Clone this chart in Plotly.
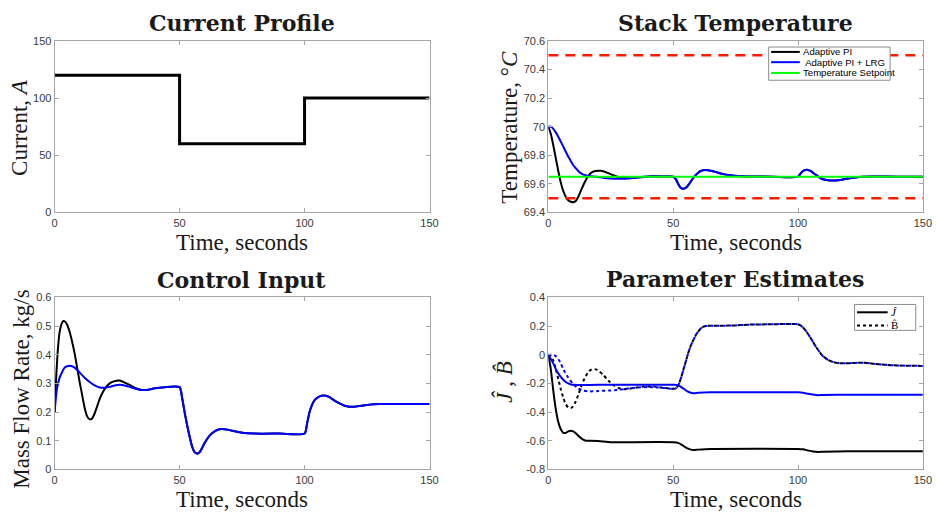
import plotly.graph_objects as go

W, H = 946, 522

# ---------------- data ----------------
cur_t = [0, 50, 50, 100, 100, 150]
cur_a = [120, 120, 60, 60, 100, 100]

temp_t_pi = [0, 1, 2, 3, 4, 5, 6, 7, 8, 9, 10, 11, 12, 13, 14, 15, 16, 17, 18, 19, 20, 21, 22, 24, 26, 28, 30, 33, 36, 40, 45, 50]
temp_pi = [70.0, 69.95, 69.87, 69.78, 69.69, 69.61, 69.55, 69.51, 69.485, 69.475, 69.472, 69.48, 69.51, 69.55, 69.59,
           69.625, 69.655, 69.675, 69.685, 69.69, 69.692, 69.692, 69.688, 69.675, 69.66, 69.648, 69.642, 69.64, 69.645,
           69.65, 69.652, 69.65]

temp_t_lrg = [0, 1, 2, 3, 4, 5, 6, 7, 8, 9, 10, 11, 12, 13, 14, 15, 16, 18, 20, 22, 25, 28, 31, 34, 38, 42, 46, 50,
              51, 52, 53, 54, 55, 56, 57, 58, 59, 60, 61, 62, 63, 64, 66, 68, 70, 73, 76, 80, 90, 100,
              101, 102, 103, 104, 105, 106, 107, 108, 109, 110, 112, 114, 116, 118, 120, 123, 126, 130, 140, 150]
temp_lrg = [70.0, 70.0, 69.985, 69.96, 69.93, 69.895, 69.86, 69.825, 69.79, 69.76, 69.73, 69.71, 69.69, 69.675, 69.665,
            69.66, 69.655, 69.652, 69.648, 69.642, 69.637, 69.635, 69.636, 69.642, 69.65, 69.655, 69.652, 69.65,
            69.635, 69.6, 69.572, 69.565, 69.572, 69.59, 69.615, 69.64, 69.66, 69.678, 69.69, 69.695, 69.697, 69.695,
            69.688, 69.678, 69.668, 69.66, 69.655, 69.652, 69.65, 69.65,
            69.672, 69.69, 69.697, 69.697, 69.69, 69.678, 69.665, 69.652, 69.64, 69.632, 69.625, 69.623, 69.625,
            69.63, 69.637, 69.645, 69.65, 69.652, 69.65, 69.65]

setpoint_t = [0, 150]
setpoint = [69.65, 69.65]
temp_upper = [70.5, 70.5]
temp_lower = [69.5, 69.5]

ctl_t_pi = [0, 0.5, 1, 1.5, 2, 3, 3.5, 4, 5, 6, 7, 8, 9, 10, 11, 12, 13, 14, 15, 16, 17, 18, 19, 20, 22, 24, 26, 28,
            30, 32, 34, 36, 38, 40, 44, 50]
ctl_pi = [0.2, 0.3, 0.38, 0.44, 0.48, 0.512, 0.518, 0.517, 0.505, 0.48, 0.445, 0.405, 0.355, 0.305, 0.26, 0.215,
          0.185, 0.175, 0.178, 0.195, 0.22, 0.245, 0.265, 0.28, 0.3, 0.308, 0.31, 0.303, 0.295, 0.285, 0.279, 0.277,
          0.279, 0.283, 0.287, 0.287]

ctl_t_lrg = [0, 0.5, 1, 2, 3, 4, 5, 6, 7, 8, 9, 10, 12, 14, 16, 18, 20, 22, 24, 26, 28, 30, 32, 34, 36, 38, 40, 44, 50,
             51, 52, 53, 54, 55, 56, 57, 58, 59, 60, 62, 64, 66, 68, 70, 72, 75, 80, 90, 100,
             101, 102, 103, 104, 106, 108, 110, 112, 114, 116, 118, 120, 123, 126, 130, 140, 150]
ctl_lrg = [0.2, 0.25, 0.285, 0.32, 0.34, 0.355, 0.36, 0.362, 0.36, 0.355, 0.347, 0.338, 0.32, 0.305, 0.293, 0.286,
           0.285, 0.288, 0.293, 0.295, 0.293, 0.288, 0.282, 0.278, 0.277, 0.279, 0.283, 0.287, 0.287,
           0.25, 0.2, 0.155, 0.115, 0.08, 0.06, 0.055, 0.06, 0.075, 0.092, 0.118, 0.133, 0.14, 0.14, 0.137, 0.133,
           0.128, 0.125, 0.125, 0.125,
           0.16, 0.2, 0.225, 0.242, 0.255, 0.258, 0.252, 0.24, 0.23, 0.222, 0.219, 0.219, 0.222, 0.226, 0.228,
           0.228, 0.228]

par_t_j_pi = [0, 1, 2, 3, 4, 5, 6, 7, 8, 9, 10, 11, 12, 13, 14, 15, 17, 20, 25, 30, 50, 52, 54, 56, 58, 60, 65, 100,
              102, 104, 106, 108, 110, 120, 150]
par_j_pi = [0, -0.1, -0.25, -0.38, -0.47, -0.52, -0.545, -0.545, -0.535, -0.53, -0.535, -0.548, -0.565, -0.58,
            -0.593, -0.6, -0.6, -0.602, -0.61, -0.61, -0.61, -0.615, -0.635, -0.655, -0.665, -0.662, -0.657, -0.657,
            -0.66, -0.668, -0.675, -0.678, -0.677, -0.673, -0.673]

par_t_b_pi = [0, 1, 2, 3, 4, 5, 6, 7, 8, 9, 10, 11, 12, 13, 14, 15, 16, 17, 18, 19, 20, 22, 24, 26, 28, 30, 32, 35,
              38, 42, 46, 50, 51]
par_b_pi = [0, -0.01, -0.04, -0.1, -0.17, -0.24, -0.3, -0.345, -0.368, -0.372, -0.36, -0.325, -0.28, -0.23, -0.185,
            -0.15, -0.12, -0.105, -0.1, -0.102, -0.11, -0.14, -0.18, -0.21, -0.232, -0.24, -0.238, -0.23, -0.222,
            -0.222, -0.23, -0.238, -0.235]

par_t_j_lrg = [0, 1, 2, 3, 4, 5, 6, 7, 8, 9, 10, 12, 20, 50, 52, 54, 56, 58, 60, 65, 100, 102, 104, 106, 108, 110,
               120, 150]
par_j_lrg = [0, -0.03, -0.06, -0.1, -0.13, -0.155, -0.175, -0.19, -0.2, -0.207, -0.21, -0.211, -0.21, -0.21, -0.212,
             -0.235, -0.258, -0.268, -0.265, -0.262, -0.262, -0.265, -0.272, -0.278, -0.282, -0.281, -0.279, -0.279]

par_t_b_lrg = [0, 2, 3, 4, 5, 6, 8, 10, 12, 14, 16, 18, 20, 24, 28, 32, 36, 40, 44, 48, 50,
               51, 52, 53, 54, 55, 56, 57, 58, 59, 60, 61, 62, 63, 65, 70, 75, 80, 90, 97, 100,
               101, 102, 103, 104, 105, 106, 107, 108, 109, 110, 112, 114, 116, 118, 122, 126, 130, 135, 140, 150]
par_b_lrg = [0, 0, -0.01, -0.03, -0.06, -0.1, -0.16, -0.205, -0.235, -0.25, -0.256, -0.255, -0.253, -0.25, -0.245,
             -0.235, -0.228, -0.225, -0.228, -0.235, -0.238,
             -0.235, -0.215, -0.17, -0.11, -0.05, 0.01, 0.06, 0.1, 0.135, 0.162, 0.182, 0.195, 0.2, 0.203, 0.203,
             0.205, 0.21, 0.213, 0.215, 0.213,
             0.205, 0.19, 0.17, 0.145, 0.118, 0.09, 0.06, 0.035, 0.01, -0.01, -0.035, -0.05, -0.058, -0.06, -0.058,
             -0.055, -0.062, -0.07, -0.075, -0.078]

x_ticks = [0, 50, 100, 150]
x_ticktext = ["0", "50", "100", "150"]
cur_ticks = [0, 50, 100, 150]
cur_ticktext = ["0", "50", "100", "150"]
temp_ticks = [69.4, 69.6, 69.8, 70.0, 70.2, 70.4, 70.6]
temp_ticktext = ["69.4", "69.6", "69.8", "70", "70.2", "70.4", "70.6"]
ctl_ticks = [0, 0.1, 0.2, 0.3, 0.4, 0.5, 0.6]
ctl_ticktext = ["0", "0.1", "0.2", "0.3", "0.4", "0.5", "0.6"]
par_ticks = [-0.8, -0.6, -0.4, -0.2, 0, 0.2, 0.4]
par_ticktext = ["-0.8", "-0.6", "-0.4", "-0.2", "0", "0.2", "0.4"]

temp_legend_labels = ["Adaptive PI", " Adaptive PI + LRG", "Temperature Setpoint"]
par_legend_labels = ["<i>Ĵ</i>", "B̂"]

# ---------------- figure ----------------
BLACK = "#000000"
BLUE = "#0000ff"
GREEN = "#00ff00"
RED = "#ff1a00"

fig = go.Figure()

def line(x, y, xa, ya, color, width=2, dash="solid", name=None, shape="spline"):
    fig.add_trace(go.Scatter(
        x=x, y=y, xaxis=xa, yaxis=ya, mode="lines",
        line=dict(color=color, width=width, dash=dash, shape=shape, smoothing=0.6 if shape == "spline" else None),
        name=name, showlegend=False, hoverinfo="skip"))

# Current profile
line(cur_t, cur_a, "x", "y", BLACK, width=3, shape="linear")

# Stack temperature
i50 = temp_t_lrg.index(50) + 1
line(temp_t_pi + temp_t_lrg[i50:], temp_pi + temp_lrg[i50:], "x2", "y2", BLACK, name=temp_legend_labels[0])
line(temp_t_lrg, temp_lrg, "x2", "y2", BLUE, name=temp_legend_labels[1])
line(setpoint_t, setpoint, "x2", "y2", GREEN, name=temp_legend_labels[2], shape="linear")
line(setpoint_t, temp_upper, "x2", "y2", RED, width=2.5, dash="10px,7px", shape="linear")
line(setpoint_t, temp_lower, "x2", "y2", RED, width=2.5, dash="10px,7px", shape="linear")

# Control input
c50 = ctl_t_lrg.index(50) + 1
line(ctl_t_pi + ctl_t_lrg[c50:], ctl_pi + ctl_lrg[c50:], "x3", "y3", BLACK)
line(ctl_t_lrg, ctl_lrg, "x3", "y3", BLUE)

# Parameter estimates
b51 = par_t_b_lrg.index(51) + 1
line(par_t_j_pi, par_j_pi, "x4", "y4", BLACK, name=par_legend_labels[0])
line(par_t_b_pi + par_t_b_lrg[b51:], par_b_pi + par_b_lrg[b51:], "x4", "y4", BLACK, dash="dot",
     name=par_legend_labels[1])
line(par_t_j_lrg, par_j_lrg, "x4", "y4", BLUE)
line(par_t_b_lrg, par_b_lrg, "x4", "y4", BLUE, dash="dot")

# ---------------- layout ----------------
def px(x):
    return x / W

def py(y):
    return 1 - y / H

L_DOM = [px(52.3), px(432)]
R_DOM = [px(552.3), px(931.7)]
T_DOM = [py(211.3), py(35.7)]
B_DOM = [py(474.3), py(298.3)]

TICKFONT = dict(family="Liberation Sans, Arial", size=11, color="#3a3a3a")
AXCOL = "#a6a6a6"

def axis(domain, anchor, rng, tv, tt):
    return dict(domain=domain, anchor=anchor, range=rng, tickvals=tv, ticktext=tt,
                showline=True, mirror="ticks", linecolor=AXCOL, linewidth=1,
                ticks="inside", ticklen=4, tickcolor=AXCOL, tickwidth=1,
                showgrid=False, zeroline=False, tickfont=TICKFONT, fixedrange=True)

fig.update_layout(
    width=W, height=H, autosize=False,
    margin=dict(l=0, r=0, t=0, b=0),
    paper_bgcolor="white", plot_bgcolor="white",
    showlegend=False,
    xaxis=axis(L_DOM, "y", [0, 150], x_ticks, x_ticktext),
    yaxis=axis(T_DOM, "x", [0, 150], cur_ticks, cur_ticktext),
    xaxis2=axis(R_DOM, "y2", [0, 150], x_ticks, x_ticktext),
    yaxis2=axis(T_DOM, "x2", [69.4, 70.6], temp_ticks, temp_ticktext),
    xaxis3=axis(L_DOM, "y3", [0, 150], x_ticks, x_ticktext),
    yaxis3=axis(B_DOM, "x3", [0, 0.6], ctl_ticks, ctl_ticktext),
    xaxis4=axis(R_DOM, "y4", [0, 150], x_ticks, x_ticktext),
    yaxis4=axis(B_DOM, "x4", [-0.8, 0.4], par_ticks, par_ticktext),
)

TITLEFONT = dict(family="DejaVu Serif", size=22, color="#1a1a1a")
LABELFONT = dict(family="Liberation Serif, Times New Roman", size=23, color="#1a1a1a")

ann = []
shapes = []
for text, cx, cy in [("<b>Current Profile</b>", 242, 17), ("<b>Stack Temperature</b>", 742, 17),
                     ("<b>Control Input</b>", 242, 280), ("<b>Parameter Estimates</b>", 742, 279)]:
    ann.append(dict(text=text, x=px(cx), y=py(cy), xref="paper", yref="paper", showarrow=False,
                    xanchor="center", yanchor="middle", font=TITLEFONT))
for cx, cy in [(242, 242), (742, 242), (242, 505), (742, 505)]:
    ann.append(dict(text="Time, seconds", x=px(cx), y=py(cy), xref="paper", yref="paper", showarrow=False,
                    xanchor="center", yanchor="middle", font=LABELFONT))
for text, cx, cy in [("Current, <i>A</i>", 16, 124), ("Temperature, °<i>C</i>", 513, 124),
                     ("Mass Flow Rate, kg/s", 19, 392), ("<i>Ĵ</i> , <i>B̂</i>", 508, 385)]:
    ann.append(dict(text=text, x=px(cx), y=py(cy), xref="paper", yref="paper", showarrow=False,
                    xanchor="center", yanchor="middle", textangle=-90, font=LABELFONT))

# ---- legend boxes (drawn as decorations) ----
LEGBORDER = "#8c8c8c"
def legend_box(x0, y0, x1, y1):
    shapes.append(dict(type="rect", xref="paper", yref="paper", x0=px(x0), x1=px(x1), y0=py(y1), y1=py(y0),
                       line=dict(color=LEGBORDER, width=1), fillcolor="white", layer="above"))

def legend_item(xs0, xs1, yc, color, dash, text, tx, font):
    shapes.append(dict(type="line", xref="paper", yref="paper", x0=px(xs0), x1=px(xs1), y0=py(yc), y1=py(yc),
                       line=dict(color=color, width=2, dash=dash), layer="above"))
    ann.append(dict(text=text, x=px(tx), y=py(yc), xref="paper", yref="paper", showarrow=False,
                    xanchor="left", yanchor="middle", font=font))

legend_box(775.5, 42, 898.5, 76)
LEGFONT1 = dict(family="Liberation Sans, Arial", size=9.6, color="#000")
for lbl, col, yc in zip(temp_legend_labels, [BLACK, BLUE, GREEN], [47, 57.5, 68.5]):
    legend_item(778, 807, yc, col, "solid", lbl, 808, LEGFONT1)

legend_box(862.5, 305.5, 924.5, 332)
LEGFONT2 = dict(family="Liberation Serif, Times New Roman", size=11, color="#000")
for lbl, dsh, yc in zip(par_legend_labels, ["solid", "dot"], [313.5, 327]):
    legend_item(865, 896, yc, BLACK, dsh, lbl, 897, LEGFONT2)

fig.update_layout(annotations=ann, shapes=shapes)

fig.write_html("out.html")
